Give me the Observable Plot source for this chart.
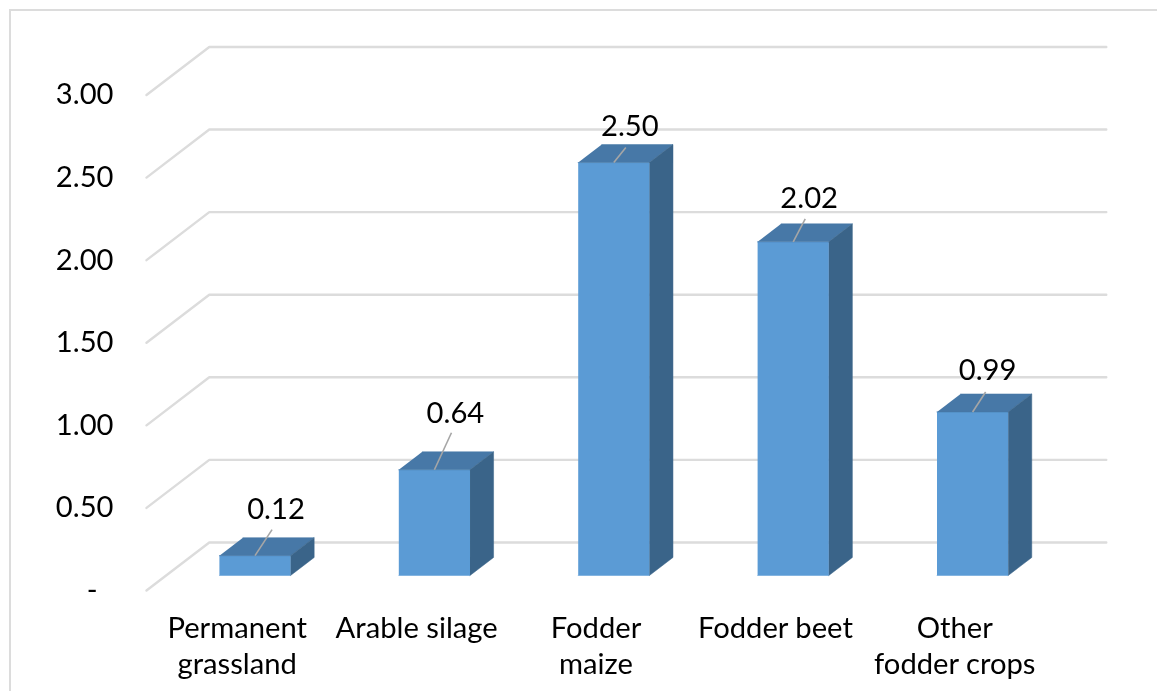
<!DOCTYPE html>
<html>
<head>
<meta charset="utf-8">
<script src="https://cdn.jsdelivr.net/npm/d3@7"></script>
<script src="https://cdn.jsdelivr.net/npm/@observablehq/plot@0.6"></script>
<style>
  html, body { margin: 0; padding: 0; background: #fff; overflow: hidden; }
  #wrap { position: relative; width: 1157px; height: 691px; overflow: hidden; }
  #wrap svg { display: block; position: absolute; left: 0; top: 0; filter: blur(0.45px); }
  #frame { position: absolute; left: 9px; top: 9px; width: 1200px; height: 800px;
           border-left: 2px solid #dcdcdc; border-top: 2px solid #dcdcdc; }
</style>
</head>
<body>
<div id="wrap"><div id="frame"></div></div>
<script>
// Chart data
const categories = ["Permanent\ngrassland", "Arable silage", "Fodder\nmaize", "Fodder beet", "Other\nfodder crops"];
const values = [0.12, 0.64, 2.50, 2.02, 0.99];
const valueLabels = ["0.12", "0.64", "2.50", "2.02", "0.99"];
const yTicks = [0.5, 1, 1.5, 2, 2.5, 3];

// Oblique projection of the 3-D chart, in scale units
const depthX = 0.35, depthY = 0.291;
const gap = 0.297, barW = 0.397, zFront = 0.3125, zBack = 0.6875;
const project = (x, v, z) => ({x: x + z * depthX, y: v + z * depthY});

const nCat = categories.length;
const gridLines = [0, ...yTicks].flatMap((v) => [
  {id: v, ...project(0, v, 0)},
  {id: v, ...project(0, v, 1)},
  {id: v, ...project(nCat, v, 1)}
]);

const poly = (i, pts) => pts.map(([x, v, z]) => ({id: i, ...project(x, v, z)}));
const front = values.flatMap((v, i) => {
  const a = i + gap, b = a + barW;
  return poly(i, [[a, 0, zFront], [b, 0, zFront], [b, v, zFront], [a, v, zFront]]);
});
const top_ = values.flatMap((v, i) => {
  const a = i + gap, b = a + barW;
  return poly(i, [[a, v, zFront], [b, v, zFront], [b, v, zBack], [a, v, zBack]]);
});
const side = values.flatMap((v, i) => {
  const b = i + gap + barW;
  return poly(i, [[b, 0, zFront], [b, 0, zBack], [b, v, zBack], [b, v, zFront]]);
});

// Hand-placed data labels: text offset and leader end from the bar's top-front centre, px
const labelNudge = [[21, -46], [21, -56], [16, -36], [16, -43], [15, -41]];
const leaderNudge = [[17, -26], [17, -37], [12, -15], [12, -23], [13, -20]];

const fontFamily = "Lato, 'Noto Sans', sans-serif";
const fontSize = 29.2;
const anchorOf = (i) => project(i + gap + barW / 2, values[i], zFront);

const fig = Plot.plot({
  width: 1157,
  height: 691,
  marginLeft: 146,
  marginRight: 114,
  marginTop: 94.5,
  marginBottom: 101,
  style: {background: "transparent", fontFamily},
  x: {domain: [0, nCat]},
  y: {domain: [0, 3]},
  marks: [
    Plot.line(gridLines, {x: "x", y: "y", z: "id", stroke: "#dcdcdc", strokeWidth: 2.4}),
    Plot.line(front, {x: "x", y: "y", z: "id", fill: "#5b9bd5", stroke: "#5b9bd5", strokeWidth: 0.5}),
    Plot.line(top_, {x: "x", y: "y", z: "id", fill: "#4778a7", stroke: "#4778a7", strokeWidth: 0.5}),
    Plot.line(side, {x: "x", y: "y", z: "id", fill: "#3a6489", stroke: "#3a6489", strokeWidth: 0.5}),
    ...values.map((v, i) => {
      const p = anchorOf(i);
      const [dx, dy] = leaderNudge[i];
      return Plot.link([p], {
        x1: "x", y1: "y",
        x2: (d) => d.x + dx / 179, y2: (d) => d.y - dy / 165,
        stroke: "#a6a6a6", strokeWidth: 1.6
      });
    }),
    ...values.map((v, i) => {
      const [dx, dy] = labelNudge[i];
      return Plot.text([anchorOf(i)], {
        x: "x", y: "y", text: () => valueLabels[i], dx, dy,
        fontSize, fill: "#000", textAnchor: "middle"
      });
    }),
    Plot.axisY(yTicks, {
      anchor: "left", tickSize: 0, tickPadding: 33, label: null,
      tickFormat: (d) => d.toFixed(2), fontSize, fill: "#000", dy: 0
    }),
    Plot.axisY([0], {
      anchor: "left", tickSize: 0, tickPadding: 49, label: null,
      tickFormat: () => "-", fontSize, fill: "#000", dy: 0
    }),
    Plot.axisX(categories.map((c, i) => i + 0.5), {
      anchor: "bottom", tickSize: 0, tickPadding: 22, label: null,
      tickFormat: (d) => categories[Math.floor(d)], fontSize, fill: "#000", lineHeight: 1.24, dx: 1
    })
  ]
});
document.getElementById("wrap").appendChild(fig);
</script>
</body>
</html>
